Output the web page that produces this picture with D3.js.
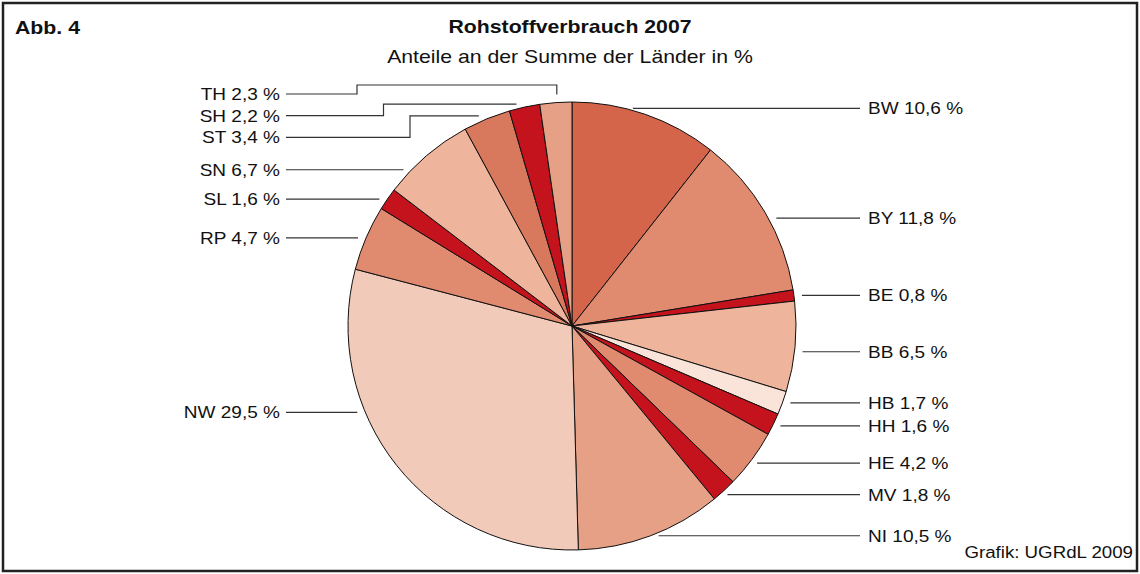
<!DOCTYPE html>
<html>
<head>
<meta charset="utf-8">
<script src="https://cdn.jsdelivr.net/npm/d3@7"></script>
<style>
  body { margin: 0; background: #fff; }
  svg { font-family: "Liberation Sans", Arial, sans-serif; }
</style>
</head>
<body>
<svg id="chart"></svg>
<script>
// data: share of the states in %
const states = ["BW", "BY", "BE", "BB", "HB", "HH", "HE", "MV", "NI", "NW", "RP", "SL", "SN", "ST", "SH", "TH"];
const shares = [10.6, 11.8, 0.8, 6.5, 1.7, 1.6, 4.2, 1.8, 10.5, 29.5, 4.7, 1.6, 6.7, 3.4, 2.2, 2.3];

const title = "Rohstoffverbrauch 2007";
const subtitle = "Anteile an der Summe der Länder in %";
const figLabel = "Abb. 4";
const source = "Grafik: UGRdL 2009";

const width = 1140, height = 574;
const cx = 572, cy = 326, radius = 224;

const color = d3.scaleOrdinal()
    .domain(states)
    .range(["#d4644a", "#e08a70", "#c4131d", "#eeb49c", "#fae3d9", "#c4131d", "#e08a70", "#c4131d",
            "#e6a086", "#f2cab9", "#e08a70", "#c4131d", "#eeb49c", "#d8785c", "#c4131d", "#e6a086"]);

const data = states.map((s, i) => ({ name: s, value: shares[i] }));

let svg = d3.select("#chart")
    .attr("width", width)
    .attr("height", height);

// the original picture is a bit wider than tall, so text gets stretched in x
function addText(x, y, str, size, sx, anchor, bold) {
    return svg.append("text")
        .attr("transform", "translate(" + x + "," + y + ") scale(" + sx + ",1)")
        .attr("text-anchor", anchor || "start")
        .attr("font-size", size)
        .attr("font-weight", bold ? "bold" : "normal")
        .attr("fill", "#111")
        .text(str);
}

// frame
svg.append("rect")
    .attr("x", 3).attr("y", 3)
    .attr("width", width - 6).attr("height", height - 6)
    .attr("fill", "#fff")
    .attr("stroke", "#222")
    .attr("stroke-width", 2.5);

addText(15, 34, figLabel, 19, 1.12, "start", true);
addText(cx - 2, 33, title, 18, 1.18, "middle", true);
addText(cx - 2, 63, subtitle, 18, 1.18, "middle", false);
addText(1133, 558, source, 17, 1.1, "end", false);

// pie
let pie = d3.pie()
    .value(d => d.value)
    .sort(null);

let arc = d3.arc()
    .innerRadius(0)
    .outerRadius(radius);

let arcs = pie(data);

let g = svg.append("g")
    .attr("transform", "translate(" + cx + "," + cy + ")");

g.selectAll("path")
    .data(arcs)
    .enter().append("path")
    .attr("d", arc)
    .attr("fill", d => color(d.data.name))
    .attr("stroke", "#111")
    .attr("stroke-width", 1)
    .attr("stroke-linejoin", "round");

// labels
const fmt = v => v.toFixed(1).replace(".", ",") + " %";
const leftTextX = 280, leftLineX = 286;
const rightTextX = 868, rightLineX = 860;
const gap = 8;
const nudge = { NW: -53, SN: 14, BW: -6, BY: 6, BB: 5, HE: 4, MV: 4 };  // hand placed labels
const stacked = ["TH", "SH", "ST"];       // top-left small slices, elbow leaders
const stackTop = 94, stackStep = 21.7;

function edgeX(y, side) {
    const dy = y - cy;
    const dx = Math.sqrt(Math.max(0, radius * radius - dy * dy));
    return side === "right" ? cx + dx : cx - dx;
}

let labels = arcs.map(d => {
    const a = (d.startAngle + d.endAngle) / 2;
    const ex = cx + radius * Math.sin(a), ey = cy - radius * Math.cos(a);
    return { name: d.data.name, value: d.data.value, a: a, ex: ex, ey: ey,
             side: a < Math.PI ? "right" : "left", y: ey + (nudge[d.data.name] || 0) };
});

// keep right labels apart
let right = labels.filter(l => l.side === "right").sort((a, b) => a.y - b.y);
for (let i = 1; i < right.length; i++) {
    if (right[i].y - right[i - 1].y < 23) right[i].y = right[i - 1].y + 23;
}

let lines = svg.append("g")
    .attr("fill", "none")
    .attr("stroke", "#333")
    .attr("stroke-width", 1.2);

labels.forEach(l => {
    let pts;
    const si = stacked.indexOf(l.name);
    if (si >= 0) {
        l.y = stackTop + si * stackStep;
        const elbowX = 357 + si * 26.5;
        const upY = Math.min(l.ey - 3, l.y - 9);
        pts = [[leftLineX, l.y], [elbowX, l.y], [elbowX, upY]];
        if (upY < l.ey - 10) {
            pts.push([l.ex + 1, upY], [l.ex + 1, l.ey - 8]);
        } else {
            pts.push([l.ex - 8, upY]);
        }
    } else if (l.side === "right") {
        pts = [[edgeX(l.y, "right") + gap, l.y], [rightLineX, l.y]];
    } else {
        pts = [[leftLineX, l.y], [edgeX(l.y, "left") - gap, l.y]];
    }
    lines.append("path").attr("d", d3.line()(pts));

    addText(l.side === "right" ? rightTextX : leftTextX, l.y, l.name + " " + fmt(l.value),
            17, 1.12, l.side === "right" ? "start" : "end", false)
        .attr("dy", "0.35em");
});
</script>
</body>
</html>
